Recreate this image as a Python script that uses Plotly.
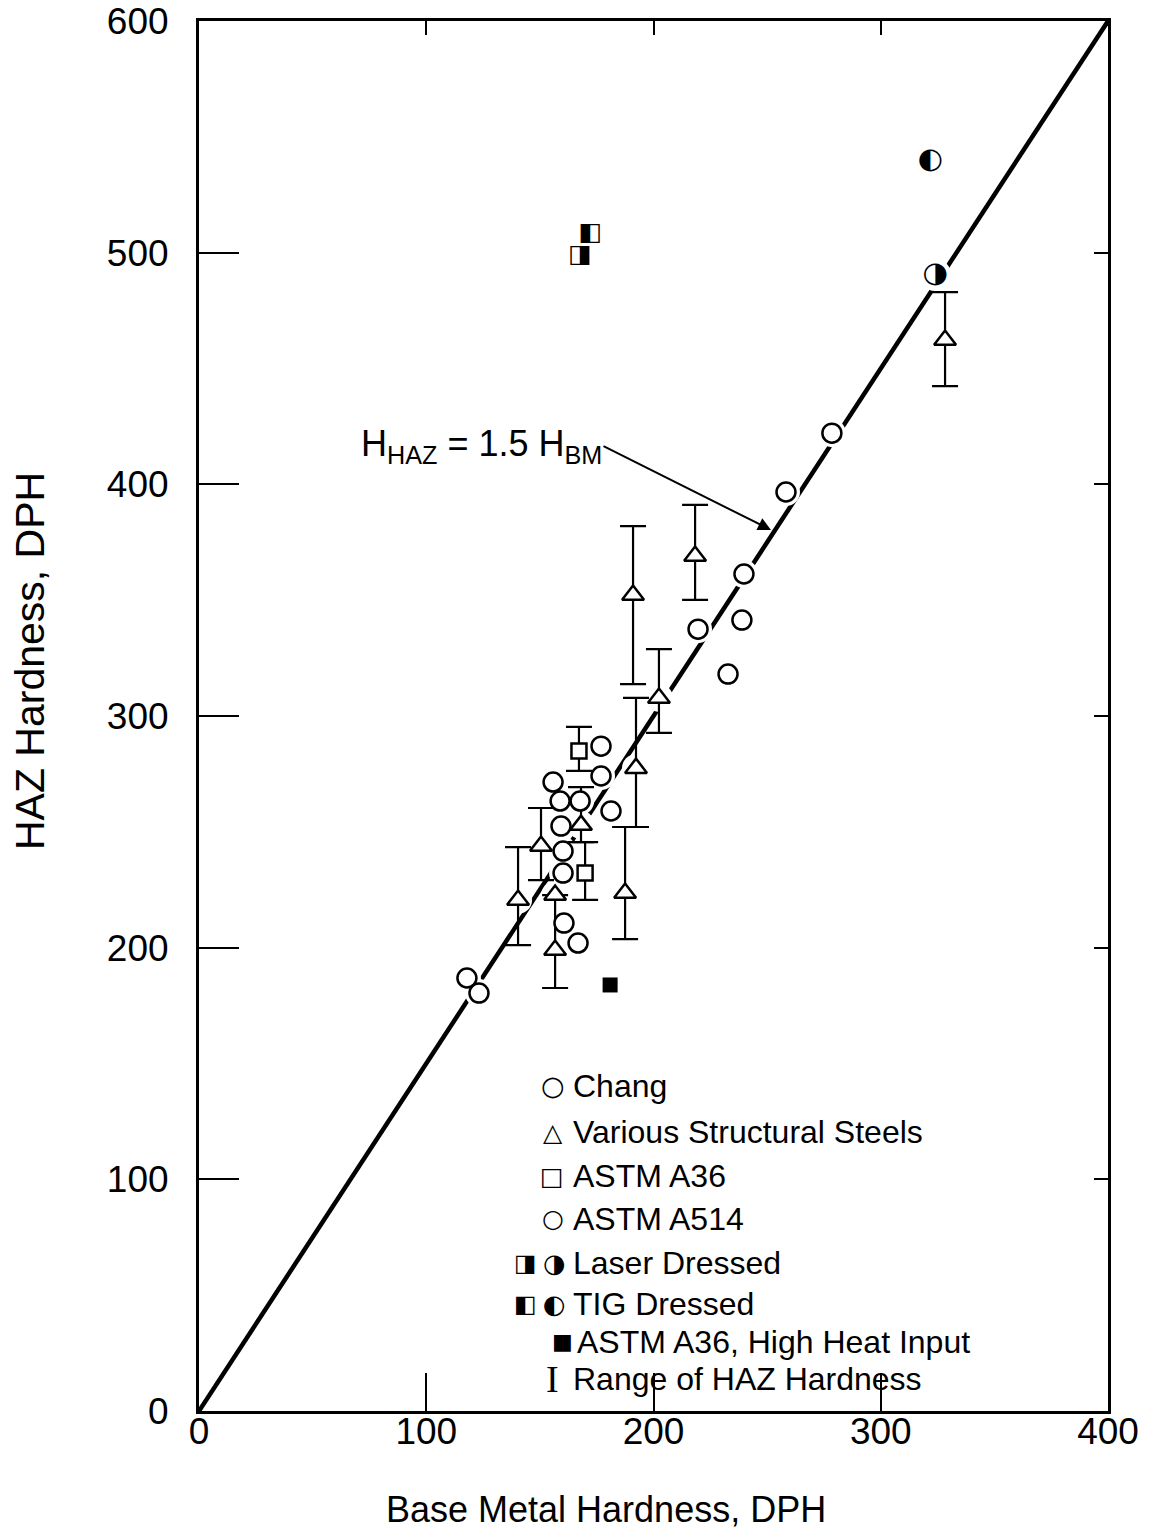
import plotly.graph_objects as go
import pandas as pd

# ---- data ----
chang_x = [176.9, 155.8, 176.9, 158.9, 167.7, 181.3, 159.3, 160.2, 160.2, 160.6, 166.8, 117.9, 123.2]
chang_y = [287.0, 271.5, 274.1, 263.3, 263.3, 259.0, 252.5, 241.7, 232.2, 210.6, 202.0, 186.9, 180.4]

a514_x = [258.3, 239.8, 238.9, 219.6, 232.8, 278.5]
a514_y = [396.7, 361.3, 341.4, 337.5, 318.1, 422.1]

steel_x = [140.4, 150.5, 156.7, 156.7, 168.1, 192.3, 187.5, 191.0, 202.4, 218.3, 328.3]
steel_y = [220.6, 243.9, 222.7, 199.0, 252.9, 277.5, 223.6, 352.2, 307.8, 369.1, 462.3]
steel_lo = [201.1, 229.2, None, 182.6, 245.6, 252.1, 203.7, 313.8, 292.7, 350.1, 442.4]
steel_hi = [243.4, 260.3, None, 222.7, 269.3, 307.8, 252.1, 382.0, 328.9, 391.1, 483.0]

a36_x = [167.2, 169.9]
a36_y = [284.9, 232.2]
a36_lo = [276.3, 220.6]
a36_hi = [295.3, 245.6]

laser_sq_x = [167.7]
laser_sq_y = [498.6]
laser_hex_x = [323.9]
laser_hex_y = [490.4]
tig_sq_x = [172.1]
tig_sq_y = [508.1]
tig_hex_x = [321.7]
tig_hex_y = [539.6]

hhi_x = [180.9]
hhi_y = [183.9]

line_x = [0, 400]
line_y = [0, 600]

x_ticks = [0, 100, 200, 300, 400]
y_ticks = [0, 100, 200, 300, 400, 500, 600]

legend_labels = ["Chang", "Various Structural Steels", "ASTM A36", "ASTM A514",
                 "Laser Dressed", "TIG Dressed", "ASTM A36, High Heat Input",
                 "Range of HAZ Hardness"]

FONT = "Liberation Sans"
BLACK = "black"

fig = go.Figure()

# 1.5 line
fig.add_trace(go.Scatter(x=line_x, y=line_y, mode="lines",
                         line=dict(color=BLACK, width=4.5), hoverinfo="skip"))

# white halos that break the line around the symbols
halo_sets = [(chang_x, chang_y, 28), (a514_x, a514_y, 28), (steel_x, steel_y, 28),
             (a36_x, a36_y, 24), (laser_sq_x + tig_sq_x, laser_sq_y + tig_sq_y, 26),
             (laser_hex_x + tig_hex_x, laser_hex_y + tig_hex_y, 32)]
for hx, hy, hs in halo_sets:
    fig.add_trace(go.Scatter(x=hx, y=hy, mode="markers",
                             marker=dict(symbol="circle", size=hs, color="white"),
                             hoverinfo="skip"))

# Various structural steels with range bars
sdf = pd.DataFrame(dict(x=steel_x, y=steel_y, lo=steel_lo, hi=steel_hi))
with_r = sdf.dropna()
no_r = sdf[sdf["lo"].isna()]
tri_marker = dict(symbol="triangle-up", size=19, color="white",
                  line=dict(color=BLACK, width=2.5))
fig.add_trace(go.Scatter(
    x=with_r["x"], y=with_r["y"], mode="markers", marker=tri_marker,
    error_y=dict(type="data", symmetric=False,
                 array=(with_r["hi"] - with_r["y"]).tolist(),
                 arrayminus=(with_r["y"] - with_r["lo"]).tolist(),
                 color=BLACK, thickness=2.2, width=13)))
fig.add_trace(go.Scatter(x=no_r["x"], y=no_r["y"], mode="markers", marker=tri_marker))

# ASTM A36 squares with range bars
fig.add_trace(go.Scatter(
    x=a36_x, y=a36_y, mode="markers",
    marker=dict(symbol="square", size=15, color="white", line=dict(color=BLACK, width=2.5)),
    error_y=dict(type="data", symmetric=False,
                 array=[h - v for h, v in zip(a36_hi, a36_y)],
                 arrayminus=[v - l for v, l in zip(a36_y, a36_lo)],
                 color=BLACK, thickness=2.2, width=13)))

# Chang circles
fig.add_trace(go.Scatter(x=chang_x, y=chang_y, mode="markers",
                         marker=dict(symbol="circle", size=19, color="white",
                                     line=dict(color=BLACK, width=2.5))))
# ASTM A514
fig.add_trace(go.Scatter(x=a514_x, y=a514_y, mode="markers",
                         marker=dict(symbol="circle", size=19, color="white",
                                     line=dict(color=BLACK, width=2.5))))

# Laser / TIG dressed (half-filled symbols)
glyph_font = "DejaVu Sans"
fig.add_trace(go.Scatter(x=laser_sq_x, y=laser_sq_y, mode="text", text=["◨"],
                         textfont=dict(family=glyph_font, size=25, color=BLACK)))
fig.add_trace(go.Scatter(x=tig_sq_x, y=tig_sq_y, mode="text", text=["◧"],
                         textfont=dict(family=glyph_font, size=25, color=BLACK)))
fig.add_trace(go.Scatter(x=laser_hex_x, y=laser_hex_y, mode="text", text=["◑"],
                         textfont=dict(family=glyph_font, size=29, color=BLACK)))
fig.add_trace(go.Scatter(x=tig_hex_x, y=tig_hex_y, mode="text", text=["◐"],
                         textfont=dict(family=glyph_font, size=29, color=BLACK)))

# ASTM A36 high heat input
fig.add_trace(go.Scatter(x=hhi_x, y=hhi_y, mode="markers",
                         marker=dict(symbol="square", size=15, color=BLACK)))

# empty trace to host the mirrored tick axes
fig.add_trace(go.Scatter(x=[], y=[], xaxis="x2", yaxis="y2", hoverinfo="skip"))

# ---- annotations ----
ann = []
# formula + arrow
ann.append(dict(x=251.7, y=380.3, xref="x", yref="y", axref="x", ayref="y",
                ax=178.0, ay=416.5, xanchor="right", yanchor="middle",
                text="H<sub>HAZ</sub> = 1.5 H<sub>BM</sub>", showarrow=True,
                arrowhead=2, arrowsize=1.3, arrowwidth=2, arrowcolor=BLACK, standoff=0,
                font=dict(family=FONT, size=36, color=BLACK)))

# legend (layout positions in data units)
leg_rows_y = [140.3, 120.4, 101.4, 82.9, 63.9, 46.2, 29.8, 13.8]
text_x = [163.6, 163.6, 163.6, 163.6, 163.6, 163.6, 165.4, 163.6]
for lbl, ly, tx in zip(legend_labels, leg_rows_y, text_x):
    ann.append(dict(x=tx, y=ly, xref="x", yref="y", text=lbl, showarrow=False,
                    xanchor="left", yanchor="middle",
                    font=dict(family=FONT, size=32, color=BLACK)))

glyphs = [("○", 155.6, 140.3, 27), ("△", 155.6, 120.4, 25), ("□", 155.4, 101.4, 25),
          ("○", 155.6, 82.9, 25), ("◨", 143.6, 63.9, 24), ("◑", 156.4, 63.9, 26),
          ("◧", 143.6, 46.2, 24), ("◐", 156.4, 46.2, 26), ("■", 160.0, 29.8, 22)]
for g, gx, gy, gs in glyphs:
    ann.append(dict(x=gx, y=gy, xref="x", yref="y", text=g, showarrow=False,
                    xanchor="center", yanchor="middle",
                    font=dict(family=glyph_font, size=gs, color=BLACK)))
ann.append(dict(x=155.6, y=13.8, xref="x", yref="y", text="I", showarrow=False,
                xanchor="center", yanchor="middle",
                font=dict(family="Liberation Serif", size=38, color=BLACK)))

# axis titles
ann.append(dict(x=-0.186, y=0.5395, xref="paper", yref="paper", text="HAZ Hardness, DPH",
                textangle=-90, showarrow=False, xanchor="center", yanchor="middle",
                font=dict(family=FONT, size=41, color=BLACK)))
ann.append(dict(x=0.4475, y=-0.071, xref="paper", yref="paper",
                text="Base Metal Hardness, DPH", showarrow=False,
                xanchor="center", yanchor="middle",
                font=dict(family=FONT, size=36, color=BLACK)))

axis_common = dict(showgrid=False, zeroline=False, ticks="inside", tickwidth=2,
                   tickcolor=BLACK, automargin=False)

fig.update_layout(
    width=1159, height=1531,
    margin=dict(l=191, r=59, t=13, b=128, autoexpand=False),
    paper_bgcolor="white", plot_bgcolor="white",
    showlegend=False,
    font=dict(family=FONT, color=BLACK),
    annotations=ann,
    xaxis=dict(range=[0, 400], tickvals=x_ticks, ticklen=38, showline=True,
               linewidth=3, linecolor=BLACK, mirror=True,
               tickfont=dict(family=FONT, size=37, color=BLACK),
               ticklabelstandoff=-14, ticklabeloverflow="allow", **axis_common),
    yaxis=dict(range=[0, 600.01], tickvals=y_ticks, ticklen=40, showline=True,
               linewidth=3, linecolor=BLACK, mirror=True,
               tickfont=dict(family=FONT, size=37, color=BLACK),
               ticklabelstandoff=20, ticklabeloverflow="allow", **axis_common),
    xaxis2=dict(range=[0, 400], tickvals=x_ticks, ticklen=14, overlaying="x",
                side="top", anchor="y2", showticklabels=False, showline=False,
                **axis_common),
    yaxis2=dict(range=[0, 600.01], tickvals=y_ticks, ticklen=14, overlaying="y",
                side="right", anchor="x2", showticklabels=False, showline=False,
                **axis_common),
)

fig.write_html("out.html")
